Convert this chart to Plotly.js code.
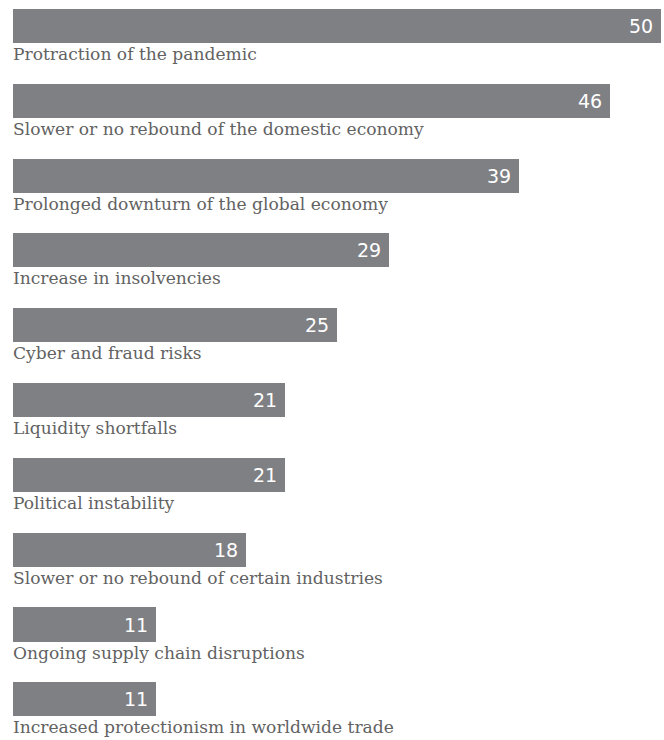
<!DOCTYPE html>
<html><head><meta charset="utf-8">
<script src="https://cdn.plot.ly/plotly-3.0.1.min.js"></script>
<style>html,body{margin:0;padding:0;background:#fff}#chart{width:664px;height:740px}</style>
</head><body><div id="chart"></div>
<script>
const categories = [
  "Protraction of the pandemic",
  "Slower or no rebound of the domestic economy",
  "Prolonged downturn of the global economy",
  "Increase in insolvencies",
  "Cyber and fraud risks",
  "Liquidity shortfalls",
  "Political instability",
  "Slower or no rebound of certain industries",
  "Ongoing supply chain disruptions",
  "Increased protectionism in worldwide trade"
];
const values = [50, 46, 39, 29, 25, 21, 21, 18, 11, 11];

const idx = categories.map((c, i) => i);
const barColor = "#7f8084";

const trace = {
  type: "bar",
  orientation: "h",
  x: values,
  y: idx,
  width: 0.455,
  marker: {color: barColor},
  hoverinfo: "skip"
};

const annotations = [];
categories.forEach((c, i) => {
  annotations.push({
    x: 0, y: i, xref: "x", yref: "y",
    text: c, showarrow: false,
    xanchor: "left", yanchor: "top",
    yshift: -16, xshift: -2,
    font: {family: "DejaVu Serif", size: 17.1, color: "#626262"}
  });
  annotations.push({
    x: values[i], y: i, xref: "x", yref: "y",
    text: String(values[i]), showarrow: false,
    xanchor: "right", yanchor: "middle",
    xshift: -6,
    font: {family: "DejaVu Sans", size: 19, color: "#ffffff"}
  });
});

const layout = {
  width: 664, height: 740,
  margin: {l: 13, r: 0, t: 0, b: 0, pad: 0},
  paper_bgcolor: "#ffffff", plot_bgcolor: "#ffffff",
  showlegend: false,
  xaxis: {range: [0, 50.2], visible: false, fixedrange: true},
  yaxis: {range: [9.544, -0.348], visible: false, fixedrange: true},
  annotations: annotations,
  bargap: 0
};

Plotly.newPlot("chart", [trace], layout, {displayModeBar: false, staticPlot: true});
</script></body></html>
